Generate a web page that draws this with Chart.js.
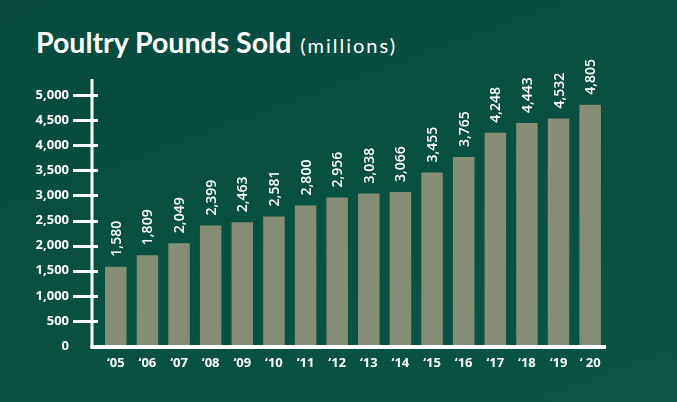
<!DOCTYPE html>
<html>
<head>
<meta charset="utf-8">
<script src="https://cdn.jsdelivr.net/npm/chart.js@4.4.0/dist/chart.umd.min.js"></script>
<style>
  html, body { margin: 0; padding: 0; }
  body {
    width: 677px; height: 402px; overflow: hidden; position: relative;
    background: linear-gradient(160deg, #064a3f 0%, #08503f 45%, #0a5547 100%);
  }
  #title {
    position: absolute; left: 36px; top: 25px;
    color: #fff; font-family: Lato, "Open Sans", sans-serif; white-space: nowrap;
  }
  #title b { font-size: 28.5px; font-weight: 700; }
  #title span { font-size: 20px; letter-spacing: 2px; margin-left: 9px; }
  #wrap { position: absolute; left: 0; top: 0; width: 677px; height: 402px; }
</style>
</head>
<body>
<div id="title"><b>Poultry Pounds Sold</b><span>(millions)</span></div>
<div id="wrap"><canvas id="poultryChart" width="677" height="402"></canvas></div>
<script>
// data
const years = ['\u201805', '\u201806', '\u201807', '\u201808', '\u201809', '\u201810', '\u201811', '\u201812',
               '\u201813', '\u201814', '\u201815', '\u201816', '\u201817', '\u201818', '\u201819', '\u2018 20'];
const pounds = [1580, 1809, 2049, 2399, 2463, 2581, 2800, 2956, 3038, 3066, 3455, 3765, 4248, 4443, 4532, 4805];
const yTicks = [0, 500, 1000, 1500, 2000, 2500, 3000, 3500, 4000, 4500, 5000];

const fmt = v => v.toLocaleString('en-US');

// white axis lines + tick marks crossing the y axis
const axisLines = {
    id: 'axisLines',
    afterDatasetsDraw(chart) {
        const c = chart.ctx;
        const y = chart.scales.y;
        const area = chart.chartArea;
        c.save();
        c.strokeStyle = '#ffffff';
        c.lineWidth = 3;
        c.beginPath();
        c.moveTo(92, 79);
        c.lineTo(92, area.bottom + 2);
        c.stroke();
        yTicks.forEach(t => {
            if (t === 0) return;
            const py = Math.round(y.getPixelForValue(t)) + 0.5;
            c.beginPath();
            c.moveTo(73, py);
            c.lineTo(98, py);
            c.stroke();
        });
        c.lineWidth = 4;
        c.beginPath();
        c.moveTo(90.5, area.bottom + 1);
        c.lineTo(area.right, area.bottom + 1);
        c.stroke();
        c.restore();
    }
};

// rotated value labels above each bar
const valueLabels = {
    id: 'valueLabels',
    afterDatasetsDraw(chart) {
        const c = chart.ctx;
        const meta = chart.getDatasetMeta(0);
        c.save();
        c.fillStyle = '#ffffff';
        c.font = '600 14px "Open Sans", sans-serif';
        c.textAlign = 'left';
        c.textBaseline = 'middle';
        meta.data.forEach((bar, i) => {
            c.save();
            c.translate(bar.x + 1, bar.y - 10);
            c.rotate(-Math.PI / 2);
            c.fillText(fmt(pounds[i]), 0, 0);
            c.restore();
        });
        c.restore();
    }
};

const ctx = document.getElementById('poultryChart').getContext('2d');
new Chart(ctx, {
    type: 'bar',
    data: {
        labels: years,
        datasets: [{
            label: 'Poultry Pounds Sold',
            data: pounds,
            backgroundColor: '#858d77',
            barPercentage: 0.68,
            categoryPercentage: 1.0
        }]
    },
    options: {
        responsive: false,
        animation: false,
        layout: { padding: { left: 0, right: 71, top: 95, bottom: 0 } },
        plugins: { legend: { display: false }, tooltip: { enabled: false } },
        scales: {
            x: {
                grid: { display: false, drawTicks: false },
                border: { display: false },
                ticks: {
                    color: '#ffffff',
                    font: { family: '"Open Sans", sans-serif', size: 13, weight: 'bold' },
                    padding: 9,
                    maxRotation: 0,
                    autoSkip: false
                },
                afterFit(scale) { scale.height = 56; }
            },
            y: {
                min: 0,
                max: 5000,
                grid: { display: false, drawTicks: false },
                border: { display: false },
                afterBuildTicks(scale) { scale.ticks = yTicks.map(v => ({ value: v })); },
                ticks: {
                    color: '#ffffff',
                    font: { family: '"Open Sans", sans-serif', size: 13, weight: 'bold' },
                    padding: 31,
                    callback: v => fmt(v)
                },
                afterFit(scale) { scale.width = 100; }
            }
        }
    },
    plugins: [axisLines, valueLabels]
});
</script>
</body>
</html>
